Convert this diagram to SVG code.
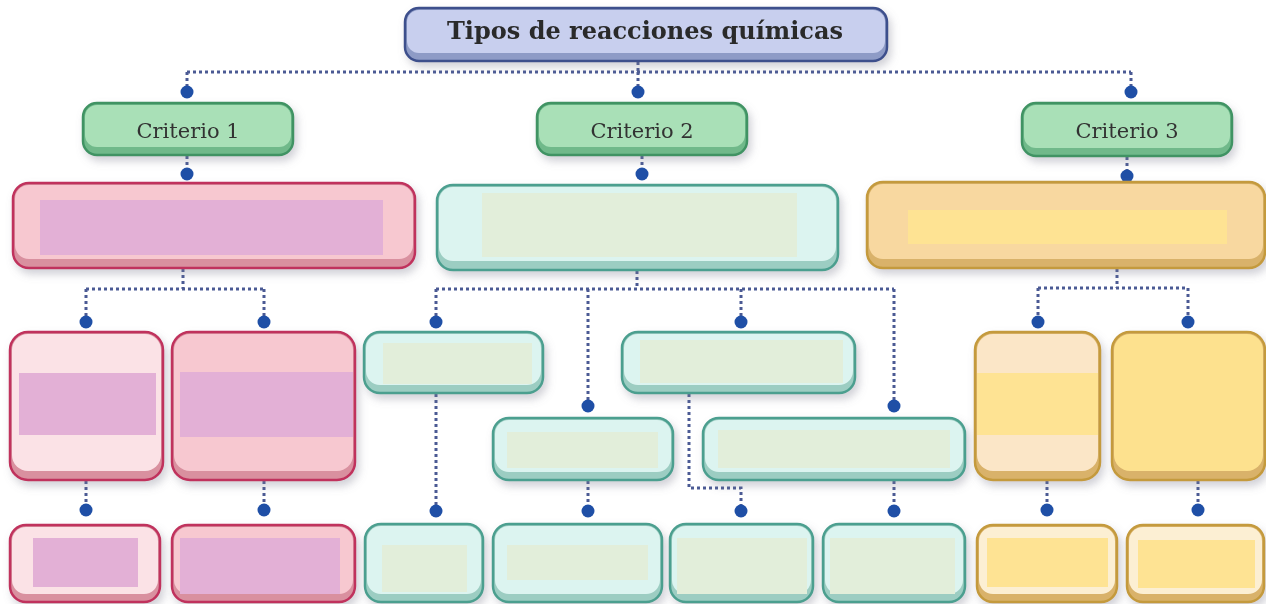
<svg xmlns="http://www.w3.org/2000/svg" width="1266" height="604" viewBox="0 0 1266 604">
<defs>
<filter id="sh" x="-10%" y="-20%" width="125%" height="150%">
<feDropShadow dx="3" dy="5" stdDeviation="4" flood-color="#7a7a8a" flood-opacity="0.35"/>
</filter>
<style>
.box{filter:url(#sh)}
.ti-b{fill:#8e9bc6;stroke:#3d4f8c;stroke-width:2.5}
.ti-f{fill:#c8cfee}
.cr-b{fill:#6fb98a;stroke:#3f9363;stroke-width:2.5}
.cr-f{fill:#a9e0b7}
.pk-b{fill:#d9909f;stroke:#c0325d;stroke-width:2.5}
.pk-f{fill:#f7c8d0}
.pk-f2{fill:#fbe2e6}
.pk-i{fill:#e3b0d6}
.gn-b{fill:#9ccdc2;stroke:#4c9f8f;stroke-width:2.5}
.gn-f{fill:#dcf4f0}
.gn-i{fill:#e2eeda}
.yl-b{fill:#d9b26a;stroke:#c49a3c;stroke-width:2.5}
.yl-f{fill:#f8d8a0}
.yl-f2{fill:#fbe6c7}
.yl-f3{fill:#fde18e}
.yl-f4{fill:#fcefd3}
.yl-i{fill:#fee393}
.t1{font-family:"DejaVu Serif","Liberation Serif",serif;font-size:24px;font-weight:bold;fill:#2a2a2a;text-anchor:middle}
.t2{font-family:"DejaVu Serif","Liberation Serif",serif;font-size:21px;fill:#333;text-anchor:middle}
.ln{fill:none;stroke:#4b5a94;stroke-width:3;stroke-dasharray:3 3}
.dt{fill:#1f4fa6}
</style>
</defs>
<rect width="1266" height="604" fill="#ffffff"/>

<g id="connectors">
<path class="ln" d="M638 62V72M187 72H1131M187 72V92M638 72V92M1131 72V92"/>
<path class="ln" d="M187 156V174M642 156V174M1127 157V176"/>
<path class="ln" d="M183 269V289M86 289H264M86 289V322M264 289V322"/>
<path class="ln" d="M637 271V289M436 289H894M436 289V322M588 289V406M741 289V322M894 289V406"/>
<path class="ln" d="M1117 269V288M1038 288H1188M1038 288V322M1188 288V322"/>
<path class="ln" d="M86 481V510M264 481V510"/>
<path class="ln" d="M436 394V511M588 481V511M689 394V488H741V511M894 481V511"/>
<path class="ln" d="M1047 481V510M1198 481V510"/>
<g class="dt">
<circle cx="187" cy="92" r="6.5"/><circle cx="638" cy="92" r="6.5"/><circle cx="1131" cy="92" r="6.5"/>
<circle cx="187" cy="174" r="6.5"/><circle cx="642" cy="174" r="6.5"/><circle cx="1127" cy="176" r="6.5"/>
<circle cx="86" cy="322" r="6.5"/><circle cx="264" cy="322" r="6.5"/>
<circle cx="436" cy="322" r="6.5"/><circle cx="741" cy="322" r="6.5"/>
<circle cx="588" cy="406" r="6.5"/><circle cx="894" cy="406" r="6.5"/>
<circle cx="1038" cy="322" r="6.5"/><circle cx="1188" cy="322" r="6.5"/>
<circle cx="86" cy="510" r="6.5"/><circle cx="264" cy="510" r="6.5"/>
<circle cx="436" cy="511" r="6.5"/><circle cx="588" cy="511" r="6.5"/><circle cx="741" cy="511" r="6.5"/><circle cx="894" cy="511" r="6.5"/>
<circle cx="1047" cy="510" r="6.5"/><circle cx="1198" cy="510" r="6.5"/>
</g>
</g>

<g id="title" class="box">
<rect class="ti-b" x="405" y="8" width="482" height="53" rx="14"/>
<rect class="ti-f" x="407" y="10" width="478" height="43" rx="12"/>
<text class="t1" x="645" y="39">Tipos de reacciones químicas</text>
</g>

<g id="criterio1" class="box">
<rect class="cr-b" x="83" y="103" width="210" height="52" rx="14"/>
<rect class="cr-f" x="85" y="105" width="206" height="42" rx="12"/>
<text class="t2" x="188" y="138">Criterio 1</text>
</g>
<g id="criterio2" class="box">
<rect class="cr-b" x="537" y="103" width="210" height="52" rx="14"/>
<rect class="cr-f" x="539" y="105" width="206" height="42" rx="12"/>
<text class="t2" x="642" y="138">Criterio 2</text>
</g>
<g id="criterio3" class="box">
<rect class="cr-b" x="1022" y="103" width="210" height="53" rx="14"/>
<rect class="cr-f" x="1024" y="105" width="206" height="43" rx="12"/>
<text class="t2" x="1127" y="138">Criterio 3</text>
</g>

<g id="pink-main" class="box">
<rect class="pk-b" x="13" y="183" width="402" height="85" rx="16"/>
<rect class="pk-f" x="15" y="185" width="398" height="74" rx="14"/>
<rect class="pk-i" x="40" y="200" width="343" height="55"/>
</g>
<g id="green-main" class="box">
<rect class="gn-b" x="437" y="185" width="401" height="85" rx="16"/>
<rect class="gn-f" x="439" y="187" width="397" height="74" rx="14"/>
<rect class="gn-i" x="482" y="193" width="315" height="64"/>
</g>
<g id="yellow-main" class="box">
<rect class="yl-b" x="867" y="182" width="398" height="86" rx="16"/>
<rect class="yl-f" x="869" y="184" width="394" height="75" rx="14"/>
<rect class="yl-i" x="908" y="210" width="319" height="34"/>
</g>

<g id="pink-a" class="box">
<rect class="pk-b" x="10" y="332" width="153" height="148" rx="18"/>
<rect class="pk-f2" x="12" y="334" width="149" height="137" rx="16"/>
<rect class="pk-i" x="19" y="373" width="137" height="62"/>
</g>
<g id="pink-b" class="box">
<rect class="pk-b" x="172" y="332" width="183" height="148" rx="18"/>
<rect class="pk-f" x="174" y="334" width="179" height="137" rx="16"/>
<rect class="pk-i" x="180" y="372" width="173" height="65"/>
</g>

<g id="green-1" class="box">
<rect class="gn-b" x="364" y="332" width="179" height="61" rx="16"/>
<rect class="gn-f" x="366" y="334" width="175" height="51" rx="14"/>
<rect class="gn-i" x="383" y="343" width="149" height="41"/>
</g>
<g id="green-2" class="box">
<rect class="gn-b" x="493" y="418" width="180" height="62" rx="16"/>
<rect class="gn-f" x="495" y="420" width="176" height="52" rx="14"/>
<rect class="gn-i" x="507" y="432" width="151" height="36"/>
</g>
<g id="green-3" class="box">
<rect class="gn-b" x="622" y="332" width="233" height="61" rx="16"/>
<rect class="gn-f" x="624" y="334" width="229" height="51" rx="14"/>
<rect class="gn-i" x="640" y="340" width="203" height="43"/>
</g>
<g id="green-4" class="box">
<rect class="gn-b" x="703" y="418" width="262" height="62" rx="16"/>
<rect class="gn-f" x="705" y="420" width="258" height="52" rx="14"/>
<rect class="gn-i" x="718" y="430" width="232" height="38"/>
</g>

<g id="yellow-e" class="box">
<rect class="yl-b" x="975" y="332" width="125" height="148" rx="18"/>
<rect class="yl-f2" x="977" y="334" width="121" height="137" rx="16"/>
<rect class="yl-i" x="977" y="373" width="121" height="62"/>
</g>
<g id="yellow-f" class="box">
<rect class="yl-b" x="1112" y="332" width="153" height="148" rx="18"/>
<rect class="yl-f3" x="1114" y="334" width="149" height="137" rx="16"/>
</g>

<g id="pink-c" class="box">
<rect class="pk-b" x="10" y="525" width="150" height="77" rx="16"/>
<rect class="pk-f2" x="12" y="527" width="146" height="67" rx="14"/>
<rect class="pk-i" x="33" y="538" width="105" height="49"/>
</g>
<g id="pink-d" class="box">
<rect class="pk-b" x="172" y="525" width="183" height="77" rx="16"/>
<rect class="pk-f" x="174" y="527" width="179" height="67" rx="14"/>
<rect class="pk-i" x="180" y="538" width="160" height="56"/>
</g>

<g id="green-l1" class="box">
<rect class="gn-b" x="365" y="524" width="118" height="78" rx="16"/>
<rect class="gn-f" x="367" y="526" width="114" height="68" rx="14"/>
<rect class="gn-i" x="382" y="545" width="85" height="47"/>
</g>
<g id="green-l2" class="box">
<rect class="gn-b" x="493" y="524" width="169" height="78" rx="16"/>
<rect class="gn-f" x="495" y="526" width="165" height="68" rx="14"/>
<rect class="gn-i" x="507" y="545" width="141" height="35"/>
</g>
<g id="green-l3" class="box">
<rect class="gn-b" x="670" y="524" width="143" height="78" rx="16"/>
<rect class="gn-f" x="672" y="526" width="139" height="68" rx="14"/>
<rect class="gn-i" x="677" y="538" width="130" height="56"/>
</g>
<g id="green-l4" class="box">
<rect class="gn-b" x="823" y="524" width="142" height="78" rx="16"/>
<rect class="gn-f" x="825" y="526" width="138" height="68" rx="14"/>
<rect class="gn-i" x="830" y="538" width="125" height="56"/>
</g>

<g id="yellow-g" class="box">
<rect class="yl-b" x="977" y="525" width="140" height="77" rx="16"/>
<rect class="yl-f4" x="979" y="527" width="136" height="67" rx="14"/>
<rect class="yl-i" x="987" y="538" width="121" height="49"/>
</g>
<g id="yellow-h" class="box">
<rect class="yl-b" x="1127" y="525" width="137" height="77" rx="16"/>
<rect class="yl-f4" x="1129" y="527" width="133" height="67" rx="14"/>
<rect class="yl-i" x="1138" y="540" width="117" height="48"/>
</g>
</svg>
